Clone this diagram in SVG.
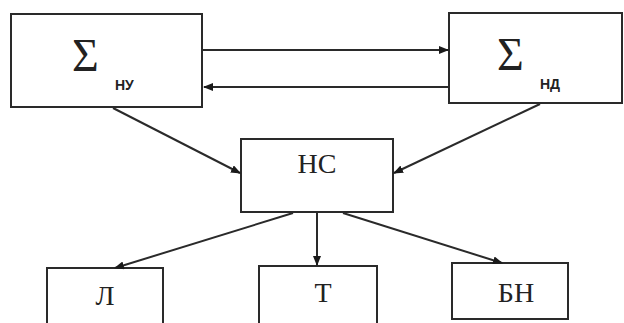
<svg xmlns="http://www.w3.org/2000/svg" width="624" height="323" viewBox="0 0 624 323">
<style>
.box{fill:#fff;stroke:#2a2a2a;stroke-width:2}
.ln{stroke:#2a2a2a;stroke-width:2;fill:none;marker-end:url(#ah)}
.sig{font-family:"Liberation Serif",serif;font-size:46px;fill:#222}
.sub{font-family:"Liberation Sans",sans-serif;font-size:14px;font-weight:bold;fill:#222}
.lbl{font-family:"Liberation Serif",serif;font-size:28px;fill:#222;text-anchor:middle}
</style>
<defs>
<marker id="ah" markerWidth="10" markerHeight="8" refX="9" refY="4" orient="auto" markerUnits="userSpaceOnUse">
<path d="M0,0 L10,4 L0,8 z" fill="#1a1a1a"/>
</marker>
</defs>
<rect width="624" height="323" fill="#fff"/>
<g id="node-sum-nu">
<rect class="box" x="11" y="14" width="191" height="93"/>
<text class="sig" x="72" y="71">Σ</text>
<text class="sub" x="115" y="90">НУ</text>
</g>
<g id="node-sum-nd">
<rect class="box" x="449" y="13" width="173" height="90"/>
<text class="sig" x="497" y="70">Σ</text>
<text class="sub" x="540" y="89">НД</text>
</g>
<g id="node-ns">
<rect class="box" x="241" y="139" width="152" height="73"/>
<text class="lbl" x="317" y="173">НС</text>
</g>
<g id="node-a">
<rect class="box" x="47" y="268" width="116" height="60"/>
<text class="lbl" x="105" y="305">Л</text>
</g>
<g id="node-t">
<rect class="box" x="259" y="266" width="118" height="62"/>
<text class="lbl" x="323" y="302">Т</text>
</g>
<g id="node-bn">
<rect class="box" x="452" y="263" width="116" height="56"/>
<text class="lbl" x="516" y="302">БН</text>
</g>
<g id="connectors">
<line class="ln" x1="203" y1="50" x2="448" y2="50"/>
<line class="ln" x1="448" y1="87" x2="204" y2="87"/>
<line class="ln" x1="113" y1="108" x2="240" y2="173"/>
<line class="ln" x1="540" y1="104" x2="394" y2="173"/>
<line class="ln" x1="293" y1="213" x2="115" y2="268"/>
<line class="ln" x1="317" y1="213" x2="317" y2="265"/>
<line class="ln" x1="343" y1="213" x2="502" y2="263"/>
</g>
</svg>
